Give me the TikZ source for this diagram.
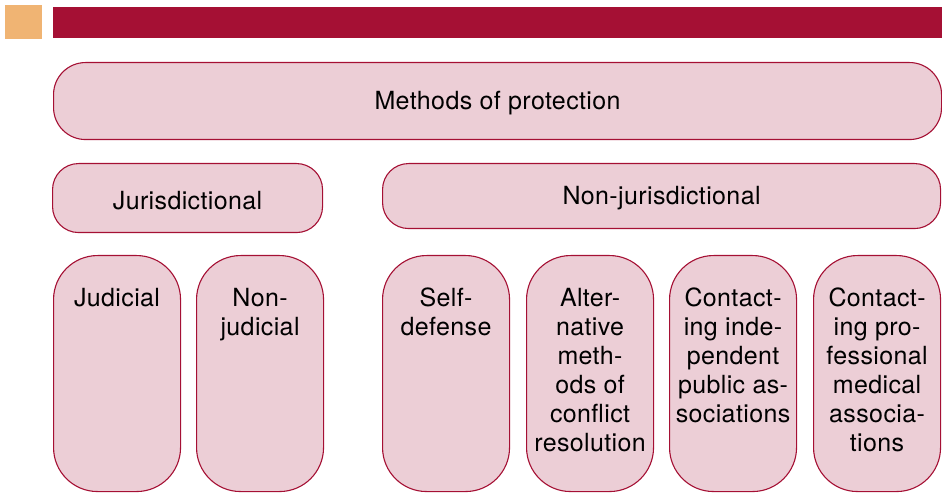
\documentclass[tikz,border=0pt]{standalone}
\usepackage{fontspec}
\setmainfont[LetterSpace=1.5]{TeX Gyre Heros}
\usepackage{tikz}
\definecolor{Crimson}{RGB}{165,16,52}
\definecolor{Blush}{RGB}{236,206,214}
\definecolor{Apricot}{RGB}{240,180,115}
\tikzset{
  methodbox/.style={draw=Crimson,fill=Blush,line width=1.1pt,rounded corners=#1,anchor=north west,inner sep=0pt},
  methodtext/.style={font=\fontsize{25}{29}\selectfont,align=center,inner sep=0pt},
}

\begin{document}
\begin{tikzpicture}[x=1pt,y=-1pt]
\useasboundingbox (0,0) rectangle (942,494);
% header strip
\fill[Apricot] (5,5) rectangle (42,39);
\fill[Crimson] (53,7) rectangle (942,38);

% top level
\node[methodbox=32pt,minimum width=888pt,minimum height=77pt] (protect) at (53,62) {};
\node[methodtext] (protect-text) at ([yshift=-2pt]protect.center) {Methods of protection};

% second level
\node[methodbox=26pt,minimum width=270pt,minimum height=69pt] (jur) at (52,163) {};
\node[methodtext] (jur-text) at ([yshift=-3pt]jur.center) {Jurisdictional};
\node[methodbox=26pt,minimum width=558pt,minimum height=65pt] (nonjur) at (382,163) {};
\node[methodtext] (nonjur-text) at ([yshift=-2pt]nonjur.center) {Non-jurisdictional};

% third level (columns)
\foreach \name/\xl/\txt in {
  judicial/53/{Judicial},
  nonjudicial/196/{Non-\\judicial},
  selfdef/382/{Self-\\defense},
  altern/526/{Alter-\\native\\meth-\\ods of\\conflict\\resolution},
  indep/669/{Contact-\\ing inde-\\pendent\\public as-\\sociations},
  medical/813/{Contact-\\ing pro-\\fessional\\medical\\associa-\\tions}}{
  \node[methodbox=44pt,minimum width=127pt,minimum height=236pt] (\name) at (\xl,255) {};
  \node[methodtext,anchor=north] (\name-text) at ([yshift=-33pt]\name.north) {\txt};
}
\end{tikzpicture}
\end{document}
